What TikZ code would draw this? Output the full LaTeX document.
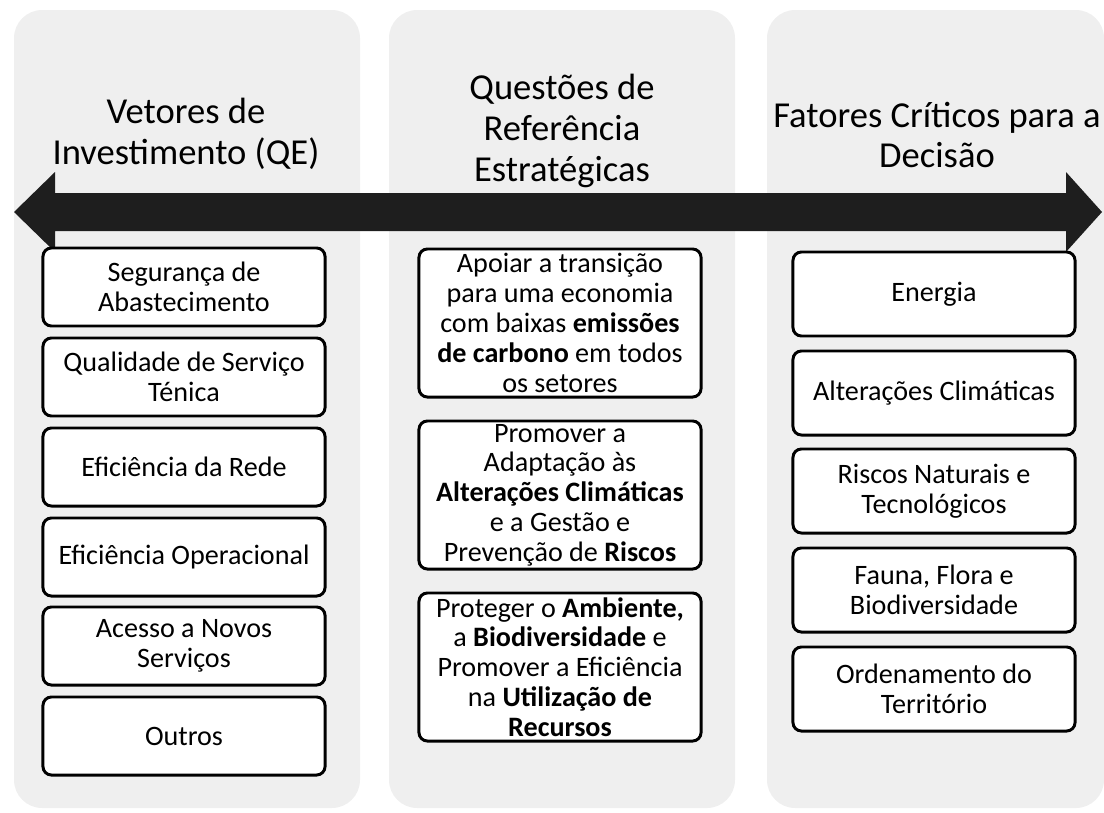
\documentclass[tikz,border=0pt]{standalone}
\usepackage{fontspec}
\setmainfont{Carlito}
\usepackage{tikz}
\usetikzlibrary{positioning}
\definecolor{qrpanel}{HTML}{EFEFEF}
\definecolor{qrarrow}{HTML}{1E1E1E}

\begin{document}
\begin{tikzpicture}[x=0.025cm, y=-0.025cm,
        panel/.style={fill=qrpanel, rounded corners=20pt},
        head/.style={align=center, font=\fontsize{26}{29}\selectfont},
        item/.style={draw=black, line width=2.1pt, fill=white, rounded corners=6pt,
                     align=center, font=\fontsize{20}{21.2}\selectfont,
                     minimum width=7.05cm, minimum height=1.95cm, inner sep=2pt},
        fcd/.style={item, minimum height=2.1cm},
        qre/.style={item, minimum height=3.7cm}]
        \useasboundingbox (0,0) rectangle (1104,812);
        % fundos das colunas
        \fill[panel] (14,10) rectangle (360,808);
        \fill[panel] (389,10) rectangle (735,808);
        \fill[panel] (767,10) rectangle (1104,808);
        % titulos
        \node[head] (hve) at (186,134) {Vetores de\\Investimento (QE)};
        \node[head] (hqr) at (562,131) {Questões de\\Referência\\Estratégicas};
        \node[head] (hfc) at (937,135) {Fatores Críticos para a\\Decisão};
        % seta dupla
        \fill[qrarrow] (14,212) -- (55,172) -- (55,193) -- (1066,193) -- (1066,172)
          -- (1102,212) -- (1066,252) -- (1066,231) -- (55,231) -- (55,252) -- cycle;
        % vetores de investimento
        \node[item] (v1) at (184,287) {Segurança de\\Abastecimento};
        \node[item] (v2) at (184,377) {Qualidade de Serviço\\Ténica};
        \node[item] (v3) at (184,467) {Eficiência da Rede};
        \node[item] (v4) at (184,557) {Eficiência Operacional};
        \node[item] (v5) at (184,646) {Acesso a Novos\\Serviços};
        \node[item] (v6) at (184,736) {Outros};
        % questoes de referencia
        \node[qre] (q1) at (560,323) {Apoiar a transição\\para uma economia\\com baixas \textbf{emissões}\\\textbf{de carbono} em todos\\os setores};
        \node[qre] (q2) at (560,495) {Promover a\\Adaptação às\\\textbf{Alterações Climáticas}\\e a Gestão e\\Prevenção de \textbf{Riscos}};
        \node[qre] (q3) at (560,667) {Proteger o \textbf{Ambiente,}\\a \textbf{Biodiversidade} e\\Promover a Eficiência\\na \textbf{Utilização de}\\\textbf{Recursos}};
        % fatores criticos
        \node[fcd] (f1) at (934,294) {Energia};
        \node[fcd] (f2) at (934,393) {Alterações Climáticas};
        \node[fcd] (f3) at (934,491) {Riscos Naturais e\\Tecnológicos};
        \node[fcd] (f4) at (934,590) {Fauna, Flora e\\Biodiversidade};
        \node[fcd] (f5) at (934,689) {Ordenamento do\\Território};
\end{tikzpicture}
\end{document}
